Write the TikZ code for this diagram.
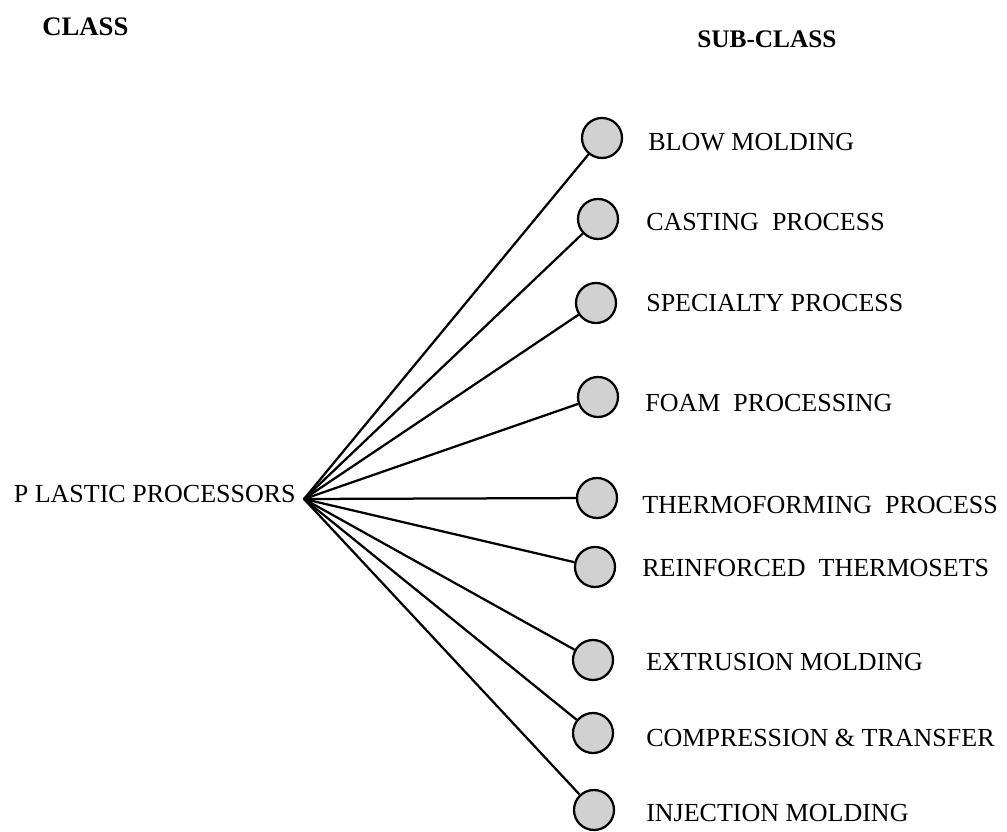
\documentclass[tikz,border=0pt]{standalone}
\usepackage{fontspec}
\setmainfont{Liberation Serif}
\usepackage{tikz}
\usetikzlibrary{calc}

\begin{document}
\begin{tikzpicture}[x=0.025cm, y=-0.025cm,
        ball/.style={circle, draw, line width=1.6pt, fill=black!18, minimum size=1.0cm, inner sep=0pt},
        spoke/.style={line width=1.6pt},
        label/.style={anchor=west, inner sep=0pt, font=\fontsize{18.5}{20}\selectfont},
        head/.style={inner sep=0pt, font=\bfseries}]
        \useasboundingbox (0, 0) rectangle (1007, 832);
        % headings
        \node[head, anchor=west, font=\fontsize{19}{20}\selectfont\bfseries] (class) at (42, 27) {CLASS};
        \node[head, anchor=west, font=\fontsize{18}{20}\selectfont\bfseries] (subclass) at (697, 39) {SUB-CLASS};
        % root
        \node[label, anchor=east] (root) at (296, 494) {P LASTIC PROCESSORS};
        \coordinate (hub) at (304, 499);
        % sub-class balls
        \node[ball] (blow) at (602, 138) {};
        \node[ball] (cast) at (598, 219) {};
        \node[ball] (spec) at (596, 303) {};
        \node[ball] (foam) at (598, 397) {};
        \node[ball] (therm) at (597, 498) {};
        \node[ball] (reinf) at (595, 567) {};
        \node[ball] (extr) at (593, 660) {};
        \node[ball] (comp) at (593, 733) {};
        \node[ball] (inj) at (594, 810) {};
        % spokes
        \draw[spoke] (hub) -- (blow);
        \draw[spoke] (hub) -- (cast);
        \draw[spoke] (hub) -- (spec);
        \draw[spoke] (hub) -- (foam);
        \draw[spoke] (hub) -- (therm);
        \draw[spoke] (hub) -- (reinf);
        \draw[spoke] (hub) -- (extr);
        \draw[spoke] (hub) -- (comp);
        \draw[spoke] (hub) -- (inj);
        % sub-class names
        \node[label] (blowtext) at (648, 142) {BLOW MOLDING};
        \node[label] (casttext) at (646, 222) {CASTING\ \ PROCESS};
        \node[label] (spectext) at (646, 303) {SPECIALTY PROCESS};
        \node[label] (foamtext) at (645, 403) {FOAM\ \ PROCESSING};
        \node[label] (thermtext) at (642, 505) {THERMOFORMING\ \ PROCESS};
        \node[label] (reinftext) at (642, 568) {REINFORCED\ \ THERMOSETS};
        \node[label] (extrtext) at (646, 662) {EXTRUSION MOLDING};
        \node[label] (comptext) at (646, 738) {COMPRESSION \& TRANSFER};
        \node[label] (injtext) at (646, 813) {INJECTION MOLDING};
\end{tikzpicture}
\end{document}
